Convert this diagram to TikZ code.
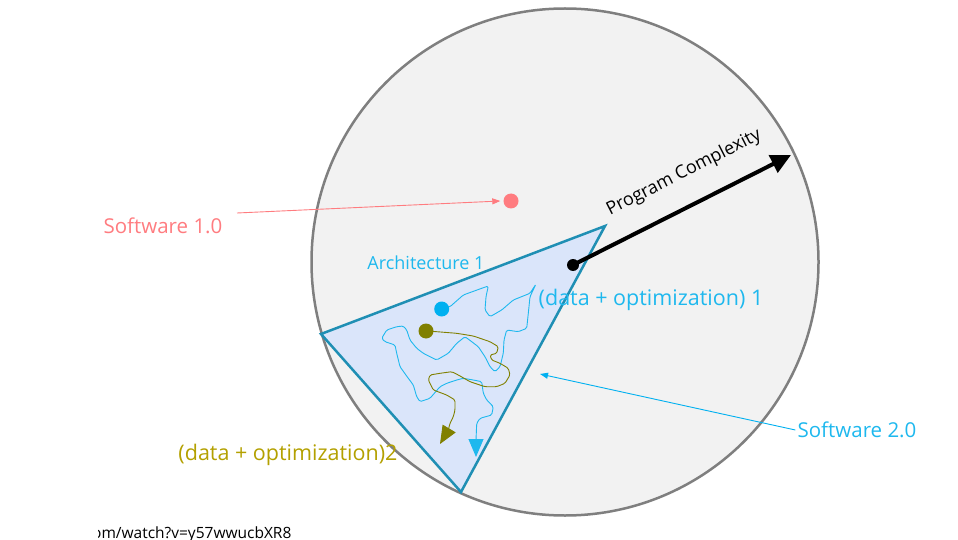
\documentclass[tikz,border=0pt]{standalone}
\usepackage{fontspec}
\setmainfont{Open Sans}
\usetikzlibrary{arrows.meta}
\definecolor{circfill}{HTML}{F2F2F2}
\definecolor{circline}{HTML}{7F7F7F}
\definecolor{salmon}{HTML}{FF7C80}
\definecolor{skyb}{HTML}{1EB8EE}
\definecolor{dotblue}{HTML}{00B0F0}
\definecolor{olivec}{HTML}{808000}
\definecolor{goldtxt}{HTML}{B3A000}
\definecolor{trifill}{HTML}{DAE5FA}
\definecolor{triline}{HTML}{1F8FB4}
\tikzset{
  dot/.style={circle,inner sep=0pt,minimum size=#1},
  lbl/.style={inner sep=0pt,anchor=center},
  thinarrow/.style={line width=0.9pt,-{Triangle[length=8pt,width=6pt]}},
  wiggle/.style={line width=0.9pt,rounded corners=1.5pt,line join=round},
}
\begin{document}
\begin{tikzpicture}[x=1pt,y=-1pt]
\useasboundingbox (0,0) rectangle (958,540);
% outer circle
\node[circle,draw=circline,fill=circfill,line width=2.5pt,minimum size=507pt,inner sep=0pt] (space) at (565,262) {};
% triangle (architecture)
\coordinate (tl) at (321,334);
\coordinate (tr) at (605,226);
\coordinate (tb) at (461,492);
\draw[triline,fill=trifill,line width=2.5pt,line join=miter] (tl) -- (tr) -- (tb) -- cycle;
% dot centres
\coordinate (bc) at (441.7,309);
\coordinate (oc) at (426,331);
% blue wiggle
\draw[wiggle,skyb,-{Triangle[length=18pt,width=15pt]}] (bc) -- (450,306.7) -- (463.3,295) -- (481.7,288.3) -- (488.3,286) -- (486,296.7) -- (485,310) -- (490,316.7) -- (501.7,310) -- (513.3,300) -- (530,293.3) -- (536,284) -- (530,296.7) -- (528.3,313.3) -- (526.7,328.3) -- (518.3,331.7) -- (506.7,330) -- (504,340) -- (503.3,353.3) -- (500,366.7) -- (495,371.7) -- (490,366.7) -- (485,356.7) -- (478.3,346.7) -- (471.7,341.7) -- (465,336.7) -- (456.7,343.3) -- (448.3,353.3) -- (436.7,360) -- (423.3,353.3) -- (416.7,348.3) -- (410,340) -- (406.7,330) -- (403.3,326) -- (396.7,326.7) -- (386.7,330) -- (381.7,338.3) -- (385,341.7) -- (395,345) -- (396.7,353.3) -- (400,366.7) -- (408.3,378.3) -- (413.3,385) -- (416.7,396.7) -- (420,401.7) -- (430,398.3) -- (440,386.7) -- (446.7,383.3) -- (456.7,380) -- (463.3,378.3) -- (473.3,380) -- (481.7,381.7) -- (483.3,393.3) -- (486.7,400) -- (493.3,406.7) -- (491.7,415) -- (480,418.3) -- (476.7,423.3) -- (476,440) -- (476,457);
% olive wiggle
\draw[wiggle,olivec,-{Triangle[length=18pt,width=15pt]}] (oc) -- (436.7,331.7) -- (456.7,333.3) -- (473.3,336) -- (490,341.7) -- (498.3,346.7) -- (496.7,353.3) -- (490,355) -- (491.7,360) -- (500,363.3) -- (508.3,368.3) -- (510,375) -- (505,383.3) -- (496.7,386.7) -- (485,386.7) -- (470,381.7) -- (458.3,375) -- (451.7,371.7) -- (440,373.3) -- (430,375) -- (428.3,380) -- (433.3,390) -- (446.7,395) -- (455,400) -- (455,410) -- (453.3,416.7) -- (450,423.3) -- (448.3,430) -- (440,444);
% dots
\node[dot=15pt,fill=dotblue] (bdot) at (bc) {};
\node[dot=15pt,fill=olivec] (odot) at (oc) {};
\node[dot=15pt,fill=salmon] (rdot) at (511,201) {};
\node[dot=12pt,fill=black] (kdot) at (573,265) {};
% program complexity arrow
\coordinate (ptip) at (791,155);
\draw[line width=4pt,-{Triangle[length=20pt,width=19pt]}] (kdot.center) -- (ptip);
\node[lbl,rotate=27,font=\fontsize{18}{20}\selectfont] (pc) at (684,173) {Program Complexity};
% labels
\node[lbl,text=salmon,font=\fontsize{20.5}{22}\selectfont] (sw1) at (163,226) {Software 1.0};
\node[lbl,text=skyb,font=\fontsize{18}{20}\selectfont] (arch) at (426,263) {Architecture 1};
\node[lbl,text=skyb,font=\fontsize{21.5}{23}\selectfont] (do1) at (651,300) {(data + optimization) 1};
\node[lbl,text=skyb,font=\fontsize{20.5}{22}\selectfont] (sw2) at (857,430) {Software 2.0};
\node[lbl,text=goldtxt,font=\fontsize{21.5}{23}\selectfont] (do2) at (288,455) {(data + optimization)2};
% pointer arrows
\coordinate (sw1start) at (237,213);
\draw[thinarrow,salmon] (sw1start) -- ([xshift=-3pt]rdot.west);
\coordinate (sw2end) at (540,374);
\draw[thinarrow,dotblue] ([xshift=-2pt]sw2.west) -- (sw2end);
% url fragment
\begin{scope}
\clip (98,515) rectangle (400,540);
\node[anchor=base west,inner sep=0pt,font=\fontsize{15.5}{17}\selectfont] (url) at (92,538) {om/watch?v=y57wwucbXR8};
\end{scope}
\end{tikzpicture}
\end{document}
